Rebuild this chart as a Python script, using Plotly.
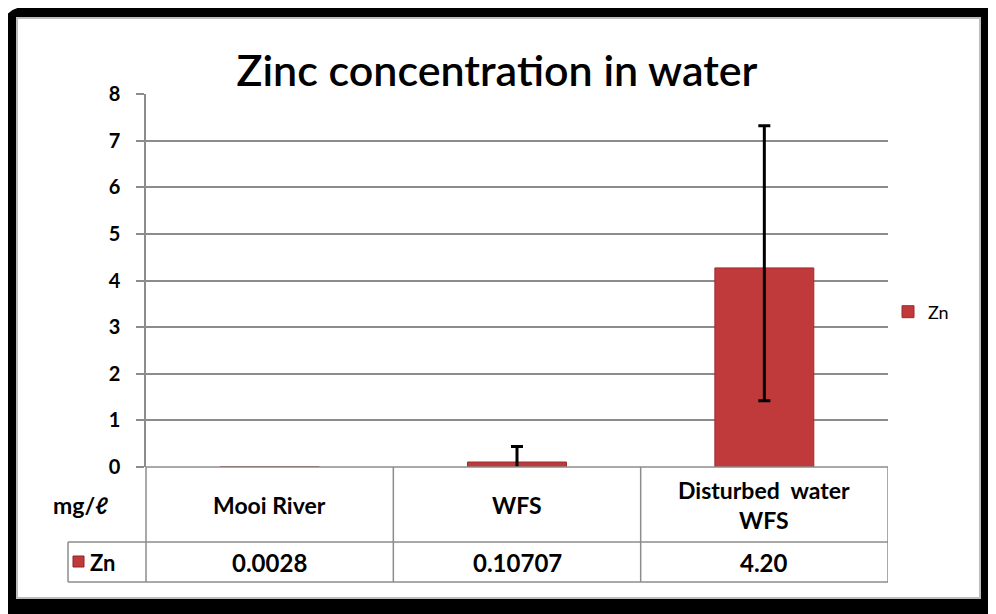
import plotly.graph_objects as go

# ---- data ----
categories = ["Mooi River", "WFS", "Disturbed  water<br>WFS"]
zn_values = [0.0028, 0.10707, 4.27]
zn_labels = ["0.0028", "0.10707", "4.20"]
err_x = [1, 2]
err_y = [0.10707, 4.27]
err_plus = [0.33, 3.05]
err_minus = [0.33, 2.85]
y_ticks = [0, 1, 2, 3, 4, 5, 6, 7, 8]
series_name = "Zn"
unit_label = "mg/ℓ"
title_text = "Zinc concentration in water"

W, H = 996, 614
OFF = 8  # page body margin offset
L = 146 - OFF
T = 94 - OFF
R = W - (888 - OFF)
B = H - (467 - OFF)
PW, PH = W - L - R, H - T - B


def px(x):
    return (x - OFF - L) / PW


def py(y):
    return (H - B - (y - OFF)) / PH


FONT = "Lato"
BAR_RED = "#C0393B"
GRID = "#8c8c8c"

fig = go.Figure()
fig.add_trace(go.Bar(
    x=[0, 1, 2], y=zn_values, name=series_name,
    marker=dict(color=BAR_RED, line=dict(color="#9E2A2C", width=1)),
    width=0.4,
))
fig.add_trace(go.Scatter(
    x=err_x, y=err_y, mode="markers", marker=dict(opacity=0, size=1),
    showlegend=False, hoverinfo="skip",
    error_y=dict(type="data", symmetric=False, array=err_plus, arrayminus=err_minus,
                 color="black", thickness=3, width=6),
))

shapes = []
# outer black frame (rounded top-left)
shapes.append(dict(type="path", xref="paper", yref="paper", layer="below",
                   path=f"M {px(3)},{py(30)} Q {px(3)},{py(7)} {px(26)},{py(7)} L {px(1010)},{py(7)} L {px(1010)},{py(630)} L {px(3)},{py(630)} Z",
                   fillcolor="black", line=dict(width=0)))
shapes.append(dict(type="rect", xref="paper", yref="paper", layer="below",
                   x0=px(16), x1=px(981), y0=py(17), y1=py(599),
                   fillcolor="#bdbdbd", line=dict(width=0)))
shapes.append(dict(type="rect", xref="paper", yref="paper", layer="below",
                   x0=px(18), x1=px(979), y0=py(19), y1=py(597),
                   fillcolor="white", line=dict(width=0)))

line_style = dict(color=GRID, width=1.5)
# data table lines
shapes.append(dict(type="line", xref="paper", yref="paper", x0=px(146), x1=px(888), y0=py(467), y1=py(467), line=line_style))
for ypix in (542, 582):
    shapes.append(dict(type="line", xref="paper", yref="paper", x0=px(68), x1=px(888), y0=py(ypix), y1=py(ypix), line=line_style))
shapes.append(dict(type="line", xref="paper", yref="paper", x0=px(68), x1=px(68), y0=py(542), y1=py(582), line=line_style))
shapes.append(dict(type="line", xref="paper", yref="paper", x0=px(146), x1=px(146), y0=py(467), y1=py(582), line=line_style))
for xb in (0.5, 1.5, 2.5):
    shapes.append(dict(type="line", xref="x", yref="paper", x0=xb, x1=xb, y0=py(467), y1=py(582), line=line_style))
# legend key in table
shapes.append(dict(type="rect", xref="paper", yref="paper", x0=px(73), x1=px(84), y0=py(556), y1=py(567),
                   fillcolor=BAR_RED, line=dict(color="#8E2426", width=1)))

annotations = []
for i, c in enumerate(categories):
    annotations.append(dict(x=i, y=py(505), xref="x", yref="paper", text=c, showarrow=False,
                            font=dict(family=FONT, size=23, color="black", weight="bold"),
                            xanchor="center", yanchor="middle"))
    annotations.append(dict(x=i, y=py(562), xref="x", yref="paper", text=zn_labels[i], showarrow=False,
                            font=dict(family=FONT, size=24, color="black", weight="bold"),
                            xanchor="center", yanchor="middle"))
annotations.append(dict(x=px(80), y=py(505), xref="paper", yref="paper", text=unit_label, showarrow=False,
                        font=dict(family=FONT, size=23, color="black", weight="bold"),
                        xanchor="center", yanchor="middle"))
annotations.append(dict(x=px(88), y=py(562), xref="paper", yref="paper", text=series_name, showarrow=False,
                        font=dict(family=FONT, size=22, color="black", weight="bold"),
                        xanchor="left", yanchor="middle"))

fig.update_layout(
    width=W, height=H,
    margin=dict(l=L, r=R, t=T, b=B, pad=0),
    paper_bgcolor="white", plot_bgcolor="rgba(0,0,0,0)",
    title=dict(text=title_text, x=px(497), xref="paper", xanchor="center",
               y=1 - (71 - OFF) / H, yanchor="middle",
               font=dict(family=FONT, size=43, color="black", weight=600)),
    showlegend=True,
    legend=dict(x=px(888), y=py(312), xanchor="left", yanchor="middle",
                font=dict(family=FONT, size=18, color="black"), bgcolor="rgba(0,0,0,0)"),
    xaxis=dict(range=[-0.5, 2.5], showticklabels=False, showgrid=False, zeroline=False,
               showline=False, ticks=""),
    yaxis=dict(range=[0, 8], tickvals=y_ticks, showgrid=True, gridcolor=GRID, gridwidth=1.5,
               zeroline=False, showline=True, linecolor=GRID, linewidth=1.5,
               ticks="outside", ticklen=8, tickcolor=GRID, tickwidth=1.5,
               ticklabelstandoff=12,
               tickfont=dict(family=FONT, size=20, color="black", weight="bold")),
    shapes=shapes, annotations=annotations,
)

fig.write_html("out.html")
